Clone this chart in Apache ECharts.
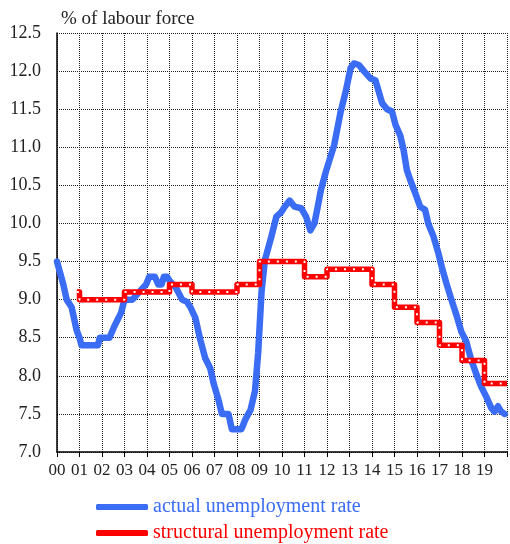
<!DOCTYPE html>
<html>
<head>
<meta charset="utf-8">
<script src="https://cdn.jsdelivr.net/npm/echarts@6/dist/echarts.min.js"></script>
<style>
  html, body { margin: 0; padding: 0; background: #fff; }
  #chart { width: 510px; height: 544px; }
</style>
</head>
<body>
<div id="chart"></div>
<script>
// years since 2000 (x) and rates
const actualYears = [0.0, 0.28, 0.43, 0.65, 0.87, 1.0, 1.09, 1.82, 1.9, 2.33, 2.55, 2.85, 3.0, 3.35, 3.96, 4.1, 4.35, 4.5, 4.65, 4.75, 4.9, 5.0, 5.3, 5.56, 5.78, 5.93, 6.15, 6.37, 6.59, 6.81, 6.96, 7.18, 7.33, 7.62, 7.77, 8.2, 8.36, 8.5, 8.6, 8.8, 8.94, 9.09, 9.24, 9.53, 9.75, 9.97, 10.12, 10.34, 10.56, 10.85, 11.07, 11.26, 11.44, 11.59, 11.73, 11.95, 12.32, 12.61, 12.83, 13.05, 13.2, 13.42, 13.64, 13.94, 14.15, 14.3, 14.45, 14.67, 14.89, 15.04, 15.26, 15.4, 15.55, 15.7, 15.92, 16.14, 16.36, 16.5, 16.73, 16.95, 17.1, 17.31, 17.53, 17.75, 17.97, 18.19, 18.41, 18.63, 18.85, 19.07, 19.3, 19.44, 19.6, 19.74, 19.9]
const actualRate = [9.5, 9.2, 9.0, 8.9, 8.6, 8.5, 8.4, 8.4, 8.5, 8.5, 8.65, 8.83, 9.0, 9.0, 9.2, 9.3, 9.3, 9.2, 9.2, 9.3, 9.3, 9.25, 9.15, 9.0, 8.97, 8.9, 8.76, 8.47, 8.23, 8.1, 7.9, 7.68, 7.5, 7.5, 7.3, 7.3, 7.42, 7.5, 7.55, 7.8, 8.3, 9.1, 9.52, 9.83, 10.09, 10.15, 10.22, 10.3, 10.22, 10.2, 10.09, 9.91, 10.0, 10.22, 10.44, 10.68, 11.03, 11.47, 11.73, 12.04, 12.1, 12.08, 12.0, 11.9, 11.88, 11.73, 11.58, 11.5, 11.47, 11.3, 11.15, 10.97, 10.7, 10.57, 10.4, 10.22, 10.18, 10.0, 9.83, 9.61, 9.43, 9.21, 9.0, 8.8, 8.58, 8.45, 8.21, 8.03, 7.86, 7.73, 7.58, 7.53, 7.6, 7.53, 7.5]

const structYears = [0.88, 1.0, 3.0, 5.0, 6.0, 8.0, 9.0, 11.0, 12.0, 14.0, 15.0, 16.0, 17.0, 18.0, 19.0, 20.0]
const structRate = [9.1, 9.0, 9.1, 9.2, 9.1, 9.2, 9.5, 9.3, 9.4, 9.2, 8.9, 8.7, 8.4, 8.2, 7.9, 7.9]

const yTicks = [7.0, 7.5, 8.0, 8.5, 9.0, 9.5, 10.0, 10.5, 11.0, 11.5, 12.0, 12.5]

const BLUE = '#3a6cf4'
const RED = '#ff0000'
const FONT = 'Liberation Serif'

const zip = (xs, ys) => xs.map((x, i) => [x, ys[i]])

const chart = echarts.init(document.getElementById('chart'))

// one legend block per row, stacked like the original
const legendRow = (name, color, top) => ({
  left: 91,
  top: top,
  itemWidth: 52,
  itemHeight: 6,
  itemGap: 4,
  textStyle: { fontFamily: FONT, fontSize: 20, color: color },
  data: [{ name: name, icon: 'roundRect' }],
})

const option = {
  animation: false,
  backgroundColor: '#fff',
  textStyle: { fontFamily: FONT },
  title: {
    text: '% of labour force',
    left: 56,
    top: 5,
    textStyle: { fontFamily: FONT, fontSize: 19, fontWeight: 'normal', color: '#222' },
  },
  grid: { left: 57, right: 1, top: 33, bottom: 92 },
  legend: [
    legendRow('actual unemployment rate', BLUE, 492),
    legendRow('structural unemployment rate', RED, 518),
  ],
  xAxis: {
    type: 'value',
    min: 0,
    max: 20,
    interval: 1,
    axisLine: { lineStyle: { color: '#000', width: 1.5 } },
    axisTick: { show: true, length: 5, lineStyle: { color: '#000' } },
    axisLabel: {
      color: '#222',
      fontSize: 17,
      margin: 10,
      formatter: (v) => (v < 20 ? String(v).padStart(2, '0') : ''),
    },
    splitLine: { show: true, lineStyle: { color: '#222', type: [1, 1], width: 1 } },
  },
  yAxis: {
    type: 'value',
    min: yTicks[0],
    max: yTicks[yTicks.length - 1],
    interval: 0.5,
    axisLine: { show: true, lineStyle: { color: '#000', width: 1.5 } },
    axisTick: { show: false },
    axisLabel: {
      color: '#222',
      fontSize: 18,
      margin: 16,
      formatter: (v) => v.toFixed(1),
    },
    splitLine: { show: true, lineStyle: { color: '#222', type: [1, 1], width: 1 } },
  },
  series: [
    {
      name: 'actual unemployment rate',
      type: 'line',
      data: zip(actualYears, actualRate),
      showSymbol: false,
      itemStyle: { color: BLUE },
      lineStyle: { color: BLUE, width: 6.5, join: 'round', cap: 'round' },
      z: 2,
    },
    {
      name: 'structural unemployment rate',
      type: 'line',
      step: 'end',
      data: zip(structYears, structRate),
      showSymbol: false,
      itemStyle: { color: RED },
      lineStyle: { color: RED, width: 5.5, join: 'round' },
      z: 3,
    },
    {
      // white dots running along the red line
      name: 'structural dots',
      type: 'line',
      step: 'end',
      data: zip(structYears, structRate),
      showSymbol: false,
      lineStyle: { color: '#fff', width: 2, type: [2, 7] },
      z: 4,
    },
  ],
}

chart.setOption(option)
</script>
</body>
</html>
